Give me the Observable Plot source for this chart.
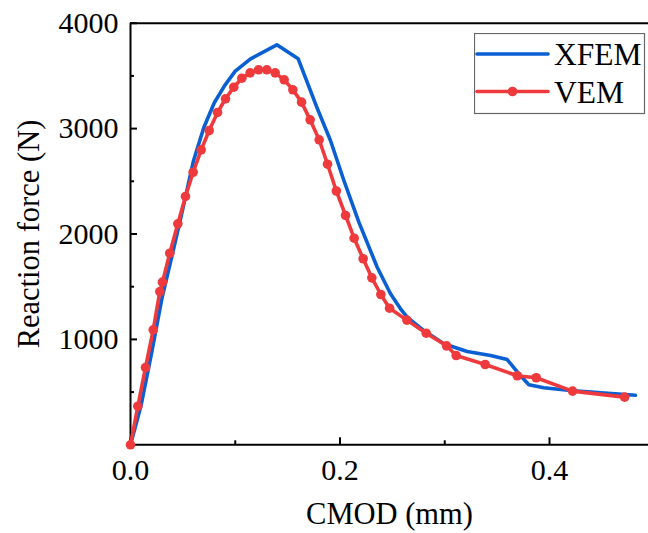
<!DOCTYPE html>
<html>
<head>
<meta charset="utf-8">
<script src="https://cdn.jsdelivr.net/npm/d3@7"></script>
<script src="https://cdn.jsdelivr.net/npm/@observablehq/plot@0.6"></script>
<style>
  body { margin: 0; background: #fff; }
  #wrap { position: relative; width: 648px; height: 533px; font-family: "Liberation Serif", "Times New Roman", serif; }
  #legend { position: absolute; left: 474px; top: 33px; }
</style>
</head>
<body>
<div id="wrap"></div>
<script>
// ---- data ----
const seriesNames = ["XFEM", "VEM"];
const seriesColors = ["#0a5fd2", "#ef3a3d"];

const xfemX = [0, 0.01, 0.02, 0.03, 0.04, 0.05, 0.06, 0.07, 0.08, 0.09, 0.1, 0.1146, 0.1397, 0.1601, 0.1782, 0.1909, 0.2037, 0.218, 0.2355, 0.2482, 0.2578, 0.2641, 0.28, 0.2991, 0.3214, 0.3437, 0.3596, 0.3707, 0.3803, 0.3946, 0.42, 0.482];
const xfemY = [0, 370, 865, 1390, 1810, 2240, 2690, 3010, 3245, 3410, 3545, 3662, 3795, 3662, 3195, 2887, 2508, 2112, 1685, 1433, 1290, 1211, 1084, 958, 885, 847, 809, 674, 569, 541, 515, 470];

const vemX = [0, 0.007, 0.0143, 0.0217, 0.028, 0.0305, 0.0375, 0.0452, 0.0525, 0.0598, 0.0675, 0.0751, 0.0831, 0.0907, 0.0986, 0.1063, 0.1142, 0.1222, 0.1301, 0.1381, 0.1467, 0.155, 0.1633, 0.1715, 0.1801, 0.1881, 0.1965, 0.2053, 0.2135, 0.2221, 0.2304, 0.239, 0.2473, 0.2638, 0.2823, 0.3017, 0.3109, 0.3386, 0.3692, 0.3873, 0.422, 0.4717];
const vemY = [0, 366, 733, 1091, 1454, 1543, 1818, 2097, 2356, 2586, 2799, 2982, 3153, 3283, 3393, 3478, 3529, 3558, 3558, 3529, 3463, 3368, 3251, 3083, 2894, 2662, 2408, 2176, 1960, 1765, 1584, 1426, 1296, 1183, 1059, 939, 847, 762, 655, 636, 509, 452];

const xMajorTicks = [0, 0.2, 0.4];
const xMinorTicks = [0.1, 0.3];
const yMajorTicks = [1000, 2000, 3000, 4000];
const yMinorTicks = [500, 1500, 2500, 3500];
const xLabel = "CMOD (mm)";
const yLabel = "Reaction force (N)";

// ---- build tables ----
const xfem = xfemX.map((x, i) => ({x, y: xfemY[i]}));
const vem = vemX.map((x, i) => ({x, y: vemY[i]}));

const W = 648, H = 533;
const mL = 130, mR = 0, mT = 22.7, mB = 88.7;
const plotW = W - mL - mR, plotH = H - mT - mB;
const tickFont = 30;
const labelFont = 30.5;
const majorLen = 7, minorLen = 4;

const chart = Plot.plot({
  width: W,
  height: H,
  marginLeft: mL,
  marginRight: mR,
  marginTop: mT,
  marginBottom: mB,
  x: {domain: [0, 0.4945]},
  y: {domain: [0, 4000]},
  style: {fontFamily: '"Liberation Serif", "Times New Roman", serif', fontSize: tickFont + "px", color: "black", background: "white", overflow: "visible"},
  marks: [
    // tick labels
    Plot.axisX(xMajorTicks, {tickSize: 0, tickPadding: 14, tickFormat: d3.format(".1f"), label: null, fontSize: tickFont}),
    Plot.axisY(yMajorTicks, {tickSize: 0, tickPadding: 12, tickFormat: d3.format("d"), label: null, fontSize: tickFont}),
    // inward ticks
    Plot.tickX(xMajorTicks, {x: d => d, insetTop: plotH - majorLen, stroke: "black", strokeWidth: 2}),
    Plot.tickX(xMinorTicks, {x: d => d, insetTop: plotH - minorLen, stroke: "black", strokeWidth: 2}),
    Plot.tickY(yMajorTicks, {y: d => d, insetRight: plotW - majorLen, stroke: "black", strokeWidth: 2}),
    Plot.tickY(yMinorTicks, {y: d => d, insetRight: plotW - minorLen, stroke: "black", strokeWidth: 2}),
    // frame lines
    Plot.ruleX([0], {stroke: "black", strokeWidth: 2}),
    Plot.ruleY([0, 4000], {stroke: "black", strokeWidth: 2}),
    // series
    Plot.line(xfem, {x: "x", y: "y", stroke: seriesColors[0], strokeWidth: 3.6}),
    Plot.line(vem, {x: "x", y: "y", stroke: seriesColors[1], strokeWidth: 3.6}),
    Plot.dot(vem, {x: "x", y: "y", r: 4.8, fill: seriesColors[1], stroke: "none"}),
    // axis titles
    Plot.text([xLabel], {frameAnchor: "bottom", dy: 79, lineAnchor: "bottom", textAnchor: "middle", fontSize: labelFont, fill: "black"}),
    Plot.text([yLabel], {frameAnchor: "left", dx: -101, rotate: -90, lineAnchor: "middle", textAnchor: "middle", fontSize: labelFont, fill: "black"})
  ]
});

const wrap = document.getElementById("wrap");
wrap.appendChild(chart);

// ---- legend ----
const ns = "http://www.w3.org/2000/svg";
const leg = document.createElementNS(ns, "svg");
leg.setAttribute("id", "legend");
leg.setAttribute("width", 172);
leg.setAttribute("height", 82);
const rect = document.createElementNS(ns, "rect");
rect.setAttribute("x", 0.5); rect.setAttribute("y", 0.5);
rect.setAttribute("width", 170); rect.setAttribute("height", 80);
rect.setAttribute("fill", "white"); rect.setAttribute("stroke", "#666"); rect.setAttribute("stroke-width", 1.2);
leg.appendChild(rect);
seriesNames.forEach((name, i) => {
  const cy = 21 + i * 37.5;
  const ln = document.createElementNS(ns, "line");
  ln.setAttribute("x1", 3); ln.setAttribute("x2", 74);
  ln.setAttribute("y1", cy); ln.setAttribute("y2", cy);
  ln.setAttribute("stroke", seriesColors[i]); ln.setAttribute("stroke-width", 3.6);
  ln.setAttribute("stroke-linecap", "round");
  leg.appendChild(ln);
  if (i === 1) {
    const c = document.createElementNS(ns, "circle");
    c.setAttribute("cx", 38.5); c.setAttribute("cy", cy); c.setAttribute("r", 4.8);
    c.setAttribute("fill", seriesColors[i]);
    leg.appendChild(c);
  }
  const t = document.createElementNS(ns, "text");
  t.setAttribute("x", 80); t.setAttribute("y", cy + 11);
  t.setAttribute("font-family", '"Liberation Serif", "Times New Roman", serif');
  t.setAttribute("font-size", 31.5);
  t.setAttribute("fill", "black");
  t.textContent = name;
  leg.appendChild(t);
});
wrap.appendChild(leg);
</script>
</body>
</html>
